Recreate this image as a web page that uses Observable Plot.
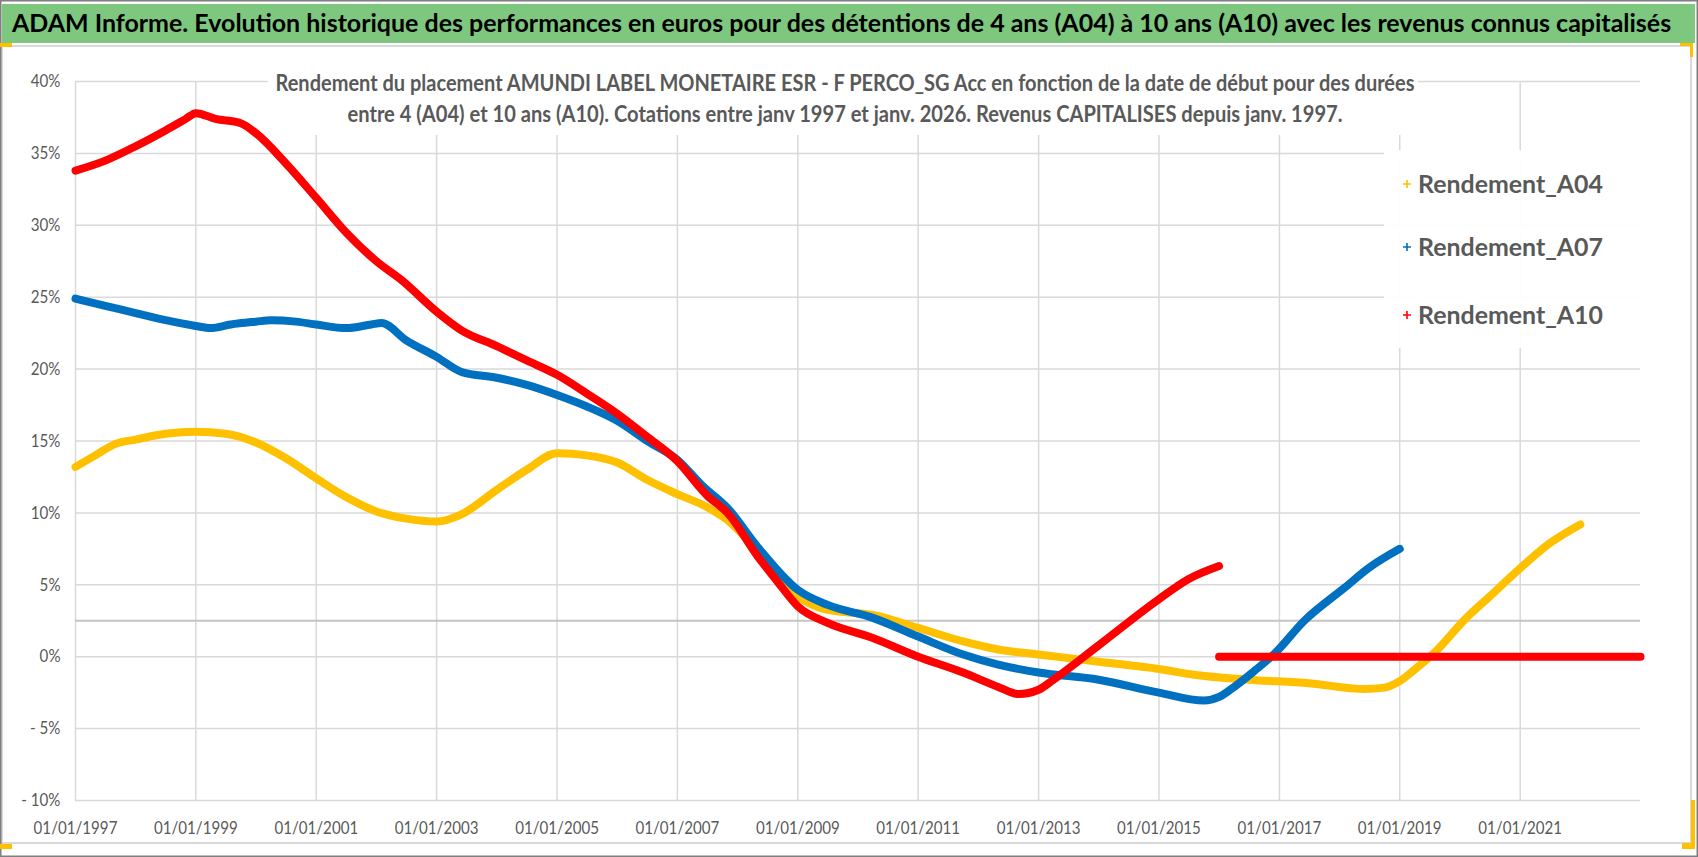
<!DOCTYPE html>
<html>
<head>
<meta charset="utf-8">
<script src="https://cdn.jsdelivr.net/npm/d3@7"></script>
<script src="https://cdn.jsdelivr.net/npm/@observablehq/plot@0.6"></script>
<style>
  html, body { margin: 0; padding: 0; background: #fff; }
  #root { position: relative; width: 1698px; height: 857px; overflow: hidden; background: #fff; }
  #plot { position: absolute; left: 0; top: 47px; }
  #overlay { position: absolute; left: 0; top: 0; pointer-events: none; }
</style>
</head>
<body>
<div id="root"><div id="plot"></div></div>
<script>
const FONT = 'Lato, "Open Sans", "DejaVu Sans", sans-serif';

// ---- texts ----
const titleText = "ADAM Informe. Evolution historique des performances en euros pour des détentions de 4 ans (A04) à 10 ans (A10) avec les revenus connus capitalisés";
const subtitleLines = [
  "Rendement du placement AMUNDI LABEL MONETAIRE ESR - F PERCO_SG Acc en fonction de la date de début pour des durées",
  "entre 4 (A04) et 10 ans (A10). Cotations entre janv 1997 et janv. 2026. Revenus CAPITALISES depuis janv. 1997."
];
const seriesNames = ["Rendement_A04", "Rendement_A07", "Rendement_A10"];
const seriesColors = ["#FFC000", "#0070C0", "#FF0000"];

// ---- axes ----
const xDomain = ["1997-01-01", "2023-01-01"];
const xTickDates = ["1997-01-01","1999-01-01","2001-01-01","2003-01-01","2005-01-01","2007-01-01","2009-01-01","2011-01-01","2013-01-01","2015-01-01","2017-01-01","2019-01-01","2021-01-01"];
const xTickLabels = ["01/01/1997","01/01/1999","01/01/2001","01/01/2003","01/01/2005","01/01/2007","01/01/2009","01/01/2011","01/01/2013","01/01/2015","01/01/2017","01/01/2019","01/01/2021"];
const yTicks = [-10, -5, 0, 5, 10, 15, 20, 25, 30, 35, 40];
const yTickLabels = ["- 10%", "- 5%", "0%", "5%", "10%", "15%", "20%", "25%", "30%", "35%", "40%"];
const referenceLine = [2.5];

// ---- series (yield in %) ----
const a04Dates = ["1997-01-01","1997-05-01","1997-09-01","1998-01-01","1998-07-01","1999-01-01","1999-07-01","2000-01-01","2000-07-01","2001-01-01","2001-07-01","2002-01-01","2002-07-01","2003-01-01","2003-06-01","2004-01-01","2004-07-01","2005-01-01","2005-07-01","2006-01-01","2006-07-01","2007-01-01","2007-07-01","2007-11-01","2008-05-01","2009-01-01","2009-07-01","2010-04-01","2011-01-01","2011-10-01","2012-05-01","2013-01-01","2014-01-01","2015-01-01","2015-08-01","2016-07-01","2017-07-01","2018-06-01","2018-10-01","2019-01-01","2019-04-01","2019-08-01","2020-02-01","2020-07-01","2021-01-01","2021-07-01","2022-01-01"];
const a04Values = [13.2,14.0,14.8,15.1,15.5,15.65,15.5,14.9,13.8,12.4,11.1,10.1,9.6,9.4,9.9,11.6,13.0,14.15,14.0,13.5,12.3,11.3,10.4,9.5,7.4,4.2,3.25,2.9,2.0,1.06,0.5,0.15,-0.35,-0.85,-1.25,-1.6,-1.85,-2.25,-2.15,-1.7,-0.9,0.3,2.6,4.2,6.15,7.9,9.2];

const a07Dates = ["1997-01-01","1997-07-01","1998-01-01","1998-07-01","1999-01-01","1999-04-01","1999-08-01","2000-01-01","2000-04-01","2000-09-01","2001-01-01","2001-07-01","2001-12-01","2002-02-01","2002-07-01","2003-01-01","2003-06-01","2004-01-01","2004-07-01","2005-01-01","2005-07-01","2006-01-01","2006-07-01","2007-01-01","2007-06-01","2007-11-01","2008-05-01","2009-01-01","2009-07-01","2010-04-01","2011-01-01","2011-10-01","2012-05-01","2013-01-01","2014-01-01","2015-01-01","2015-10-01","2016-01-01","2016-04-01","2016-08-01","2016-12-01","2017-06-01","2018-02-01","2018-07-01","2019-01-01"];
const a07Values = [24.9,24.4,23.9,23.4,23.0,22.85,23.1,23.3,23.4,23.3,23.1,22.85,23.1,23.2,22.0,20.85,19.8,19.4,18.9,18.2,17.4,16.4,15.0,13.7,11.9,10.35,7.65,4.65,3.6,2.7,1.4,0.15,-0.55,-1.1,-1.6,-2.5,-3.05,-2.8,-2.1,-1.0,0.2,2.5,4.8,6.2,7.5];

const a10Dates = ["1997-01-01","1997-07-01","1998-01-01","1998-07-01","1998-11-01","1999-01-01","1999-05-01","1999-10-01","2000-01-01","2000-07-01","2001-01-01","2001-07-01","2002-01-01","2002-06-01","2003-01-01","2003-06-01","2004-01-01","2004-07-01","2005-01-01","2005-07-01","2006-01-01","2006-07-01","2007-01-01","2007-07-01","2007-11-01","2008-05-01","2008-09-01","2009-01-01","2009-07-01","2010-04-01","2011-01-01","2011-10-01","2012-05-01","2012-09-01","2013-01-01","2013-04-01","2014-01-01","2015-01-01","2015-07-01","2016-01-01"];
const a10Values = [33.8,34.5,35.5,36.6,37.4,37.8,37.4,37.1,36.4,34.3,31.9,29.5,27.5,26.2,24.0,22.7,21.6,20.6,19.6,18.3,16.9,15.3,13.6,11.2,10.0,7.0,5.2,3.5,2.35,1.3,0.0,-1.1,-2.1,-2.6,-2.3,-1.6,0.8,4.0,5.4,6.3];

// A10 after the end of the known window: plotted at 0
const a10TailDates = ["2016-01-01", "2023-01-01"];
const a10TailValues = [0, 0];

// ---- build ----
const toRows = (dates, values) => dates.map((d, i) => ({date: new Date(d), value: values[i]}));
const a04 = toRows(a04Dates, a04Values);
const a07 = toRows(a07Dates, a07Values);
const a10 = toRows(a10Dates, a10Values);
const a10Tail = toRows(a10TailDates, a10TailValues);
const tickDates = xTickDates.map(d => new Date(d));
const xLabelOf = d => xTickLabels[tickDates.findIndex(t => +t === +d)];
const yLabelOf = d => yTickLabels[yTicks.indexOf(d)];

const GRID = "#d9d9d9";
const TEXT = "#595959";
const LINE_W = 8;

const chart = Plot.plot({
  width: 1698,
  height: 800,
  marginLeft: 75,
  marginRight: 58,
  marginTop: 34,
  marginBottom: 47,
  style: {fontFamily: FONT, fontSize: "18px", color: TEXT, background: "transparent", overflow: "visible"},
  x: {type: "utc", domain: xDomain.map(d => new Date(d)), ticks: tickDates, tickFormat: xLabelOf, tickSize: 0, tickPadding: 21, label: null},
  y: {domain: [-10, 40], ticks: yTicks, tickFormat: yLabelOf, tickSize: 0, tickPadding: 15, label: null},
  marks: [
    Plot.gridY(yTicks, {stroke: GRID, strokeOpacity: 1, strokeWidth: 1.5}),
    Plot.gridX(tickDates, {stroke: GRID, strokeOpacity: 1, strokeWidth: 1.5}),
    Plot.ruleY(referenceLine, {stroke: "#c4c4c4", strokeWidth: 2}),
    Plot.line(a04, {x: "date", y: "value", stroke: seriesColors[0], strokeWidth: LINE_W, curve: "monotone-x"}),
    Plot.line(a07, {x: "date", y: "value", stroke: seriesColors[1], strokeWidth: LINE_W, curve: "monotone-x"}),
    Plot.line(a10Tail, {x: "date", y: "value", stroke: seriesColors[2], strokeWidth: LINE_W}),
    Plot.line(a10, {x: "date", y: "value", stroke: seriesColors[2], strokeWidth: LINE_W, curve: "monotone-x"})
  ]
});
document.getElementById("plot").appendChild(chart);

// narrow the tick labels (the original uses a condensed face)
d3.select(chart).selectAll('g[aria-label="x-axis tick label"] text, g[aria-label="y-axis tick label"] text')
  .each(function () {
    const w = this.getComputedTextLength();
    if (w > 0) {
      this.setAttribute("textLength", (w * 0.84).toFixed(1));
      this.setAttribute("lengthAdjust", "spacingAndGlyphs");
    }
  });

// ---- overlay: frame, title, subtitle, legend ----
const ov = d3.select("#root").append("svg").attr("id", "overlay")
  .attr("width", 1698).attr("height", 857)
  .style("font-family", FONT);

// inner chart frame
ov.append("rect").attr("x", 2).attr("y", 46).attr("width", 1689).attr("height", 797)
  .attr("fill", "none").attr("stroke", "#d9d9d9").attr("stroke-width", 2);
// outer border
ov.append("rect").attr("x", 0.75).attr("y", 0.75).attr("width", 1696.5).attr("height", 855.5)
  .attr("fill", "none").attr("stroke", "#7f7f7f").attr("stroke-width", 1.5);
// green title bar
ov.append("rect").attr("x", 2).attr("y", 4).attr("width", 1693).attr("height", 39).attr("fill", "#7ec77e");

// title: font size chosen so that its natural width spans the bar
const title = ov.append("text").attr("x", 12).attr("y", 32)
  .attr("font-size", 30).attr("font-weight", "bold").attr("fill", "#000")
  .text(titleText);
{
  const w = title.node().getComputedTextLength();
  const target = 1660;
  const fs = Math.min(30, 30 * target / w);
  title.attr("font-size", fs.toFixed(2));
}

// subtitle with white box
ov.append("rect").attr("x", 268).attr("y", 60).attr("width", 1150).attr("height", 75).attr("fill", "#fff");
const subW = [1139, 995];
const subY = [90.5, 121.5];
subtitleLines.forEach((s, i) => {
  ov.append("text").attr("x", 845).attr("y", subY[i]).attr("text-anchor", "middle")
    .attr("font-size", 22).attr("font-weight", "bold").attr("fill", TEXT)
    .attr("textLength", subW[i]).attr("lengthAdjust", "spacingAndGlyphs")
    .text(s);
});

// legend
ov.append("rect").attr("x", 1384).attr("y", 150).attr("width", 262).attr("height", 198).attr("fill", "#fff").attr("fill-opacity", 0.95);
const legY = [184, 247, 315];
seriesNames.forEach((name, i) => {
  const g = ov.append("g");
  g.append("path").attr("d", `M${1403},${legY[i]}h8M${1407},${legY[i]-4}v8`)
    .attr("stroke", seriesColors[i]).attr("stroke-width", 1.6).attr("fill", "none");
  g.append("text").attr("x", 1418).attr("y", legY[i] + 9)
    .attr("font-size", 25).attr("font-weight", "bold").attr("fill", TEXT)
    .attr("textLength", 185).attr("lengthAdjust", "spacingAndGlyphs")
    .text(name);
});

// selection handles (yellow)
const Y = "#FFC000";
[[0, 43, 12, 4], [1680, 43, 13, 3], [1690, 43, 3, 14], [0, 844, 12, 5], [1691, 800, 4, 48], [1682, 843, 13, 6]]
  .forEach(([x, y, w, h]) => ov.append("rect").attr("x", x).attr("y", y).attr("width", w).attr("height", h).attr("fill", Y));
</script>
</body>
</html>
